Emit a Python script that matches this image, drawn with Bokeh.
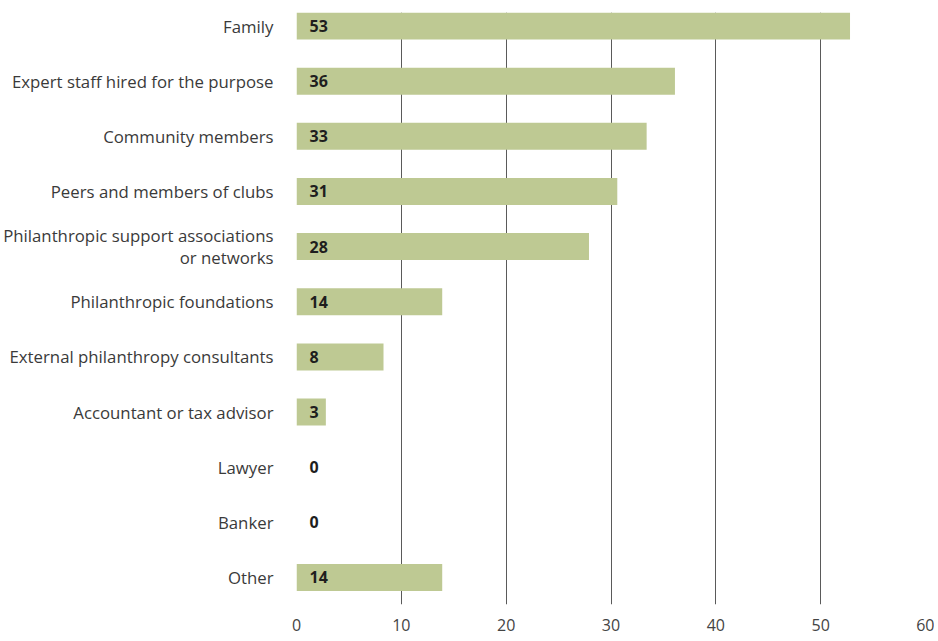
from bokeh.plotting import figure
from bokeh.models import Range1d, FixedTicker, ColumnDataSource
from bokeh.core.properties import value
from bokeh.embed import file_html
from bokeh.resources import INLINE

categories = [
    "Family",
    "Expert staff hired for the purpose",
    "Community members",
    "Peers and members of clubs",
    "Philanthropic support associations\nor networks",
    "Philanthropic foundations",
    "External philanthropy consultants",
    "Accountant or tax advisor",
    "Lawyer",
    "Banker",
    "Other",
]
values = [52.8, 36.1, 33.4, 30.6, 27.9, 13.9, 8.3, 2.8, 0, 0, 13.9]
labels = ["53", "36", "33", "31", "28", "14", "8", "3", "0", "0", "14"]
x_ticks = [0, 10, 20, 30, 40, 50, 60]

FONT = "Open Sans"
pos = list(range(len(categories)))

src = ColumnDataSource(dict(y=pos, v=values, lab=labels))

p = figure(
    width=934, height=636,
    output_backend="svg", toolbar_location=None,
    x_range=Range1d(0, 60),
    y_range=Range1d(10.49, -0.245),
    min_border_left=292, min_border_right=9, min_border_top=12, min_border_bottom=32,
)
p.outline_line_color = None
p.background_fill_color = "white"
p.border_fill_color = "white"

p.hbar(y="y", left=0, right="v", height=0.49, source=src,
       fill_color="#bec993", line_color=None)
p.text(x=0, y="y", text="lab", source=src, x_offset=13,
       text_align="left", text_baseline="middle",
       text_font=value(FONT), text_font_style="bold",
       text_font_size="16px", text_color="#1e1e1e")

# x axis
xa = p.xaxis[0]
xa.ticker = FixedTicker(ticks=x_ticks)
xa.axis_line_color = None
xa.major_tick_line_color = None
xa.minor_tick_line_color = None
xa.major_label_standoff = 8
xa.major_label_text_font = FONT
xa.major_label_text_font_size = "16px"
xa.major_label_text_color = "#444444"

# y axis with category labels
ya = p.yaxis[0]
ya.ticker = FixedTicker(ticks=pos)
ya.major_label_overrides = {i: c for i, c in zip(pos, categories)}
ya.axis_line_color = None
ya.major_tick_line_color = None
ya.minor_tick_line_color = None
ya.major_label_standoff = 17
ya.major_label_text_font = FONT
ya.major_label_text_font_size = "16.8px"
ya.major_label_text_line_height = 0.93
ya.major_label_text_color = "#3a3a3a"
ya.major_label_text_align = "right"

p.xgrid.ticker = FixedTicker(ticks=x_ticks)
p.xgrid.grid_line_color = "#5a5a5a"
p.xgrid.grid_line_width = 1
p.ygrid.grid_line_color = None

open("out.html", "w").write(file_html(p, INLINE))
